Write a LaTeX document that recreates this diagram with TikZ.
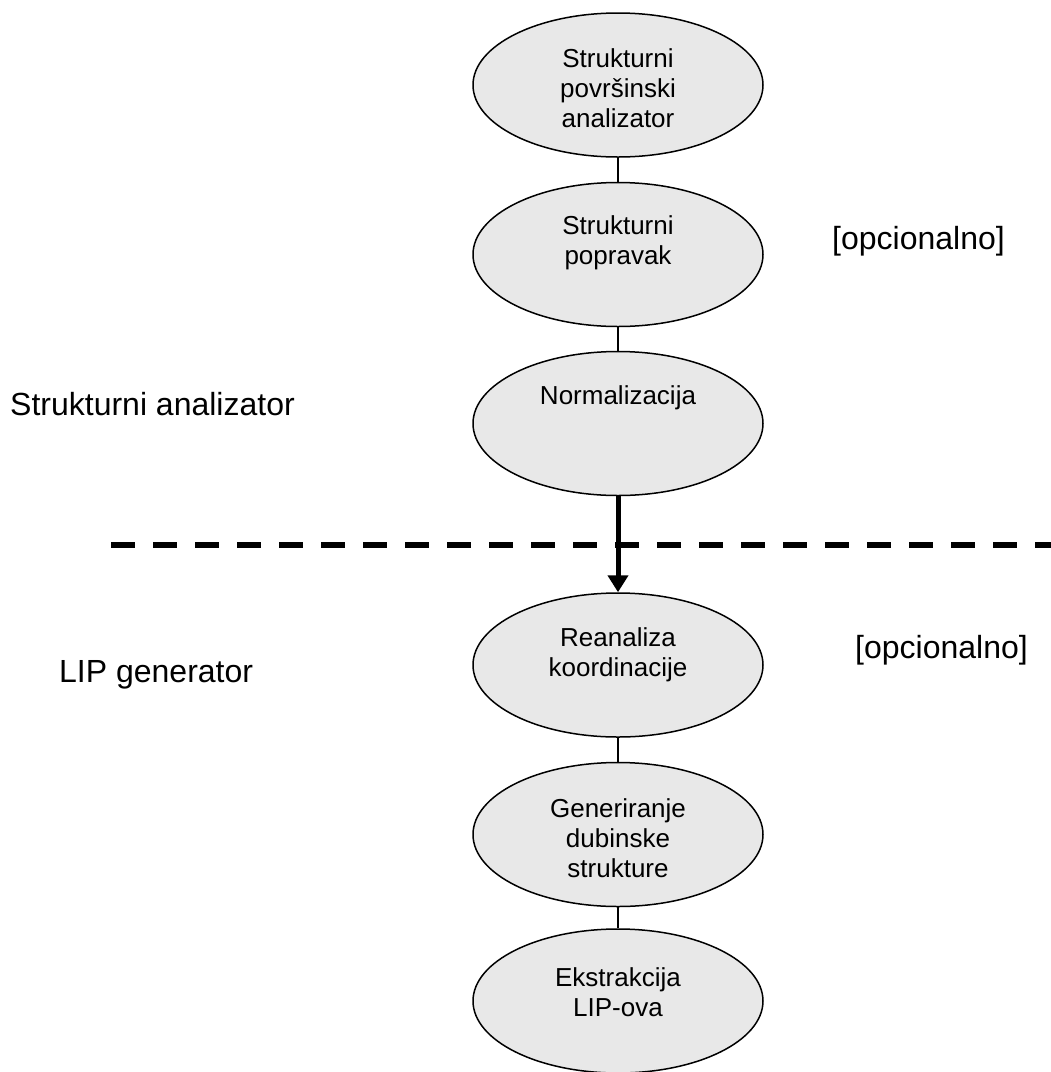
\documentclass[tikz,border=0pt]{standalone}
\usepackage{fontspec}
\setmainfont{Liberation Sans}
\usetikzlibrary{arrows.meta,shapes.geometric}
\definecolor{ellfill}{RGB}{232,232,232}
\tikzset{
  stage/.style={ellipse, draw=black, line width=1.5pt, fill=ellfill, minimum width=290pt, minimum height=144pt, inner sep=0pt},
  stagetext/.style={align=center, inner sep=0pt, font=\fontsize{26}{30}\selectfont},
  sidelabel/.style={inner sep=0pt, font=\fontsize{32}{38}\selectfont},
  link/.style={line width=1.5pt},
  bigarrow/.style={line width=5pt, -{Triangle[length=17pt,width=20pt]}},
  divider/.style={line width=5.5pt, dash pattern=on 24pt off 18pt}
}
\begin{document}
\begin{tikzpicture}[x=1pt,y=-1pt]
\useasboundingbox (0,0) rectangle (1051,1072);
\fill[white] (0,0) rectangle (1051,1072);

\node[stage] (e1) at (618,85) {};
\node[stage] (e2) at (618,254.5) {};
\node[stage] (e3) at (618,423.5) {};
\node[stage] (e4) at (618,665) {};
\node[stage] (e5) at (618,834.5) {};
\node[stage] (e6) at (618,1001) {};

\node[stagetext] (t1) at (618,88) {Strukturni\\površinski\\analizator};
\node[stagetext] (t2) at (618,243) {Strukturni\\popravak};
\node[stagetext] (t3) at (618,398) {Normalizacija};
\node[stagetext] (t4) at (618,655) {Reanaliza\\koordinacije};
\node[stagetext] (t5) at (618,838) {Generiranje\\dubinske\\strukture};
\node[stagetext] (t6) at (618,992) {Ekstrakcija\\LIP-ova};

\draw[link] (e1.south) -- (e2.north);
\draw[link] (e2.south) -- (e3.north);
\draw[link] (e4.south) -- (e5.north);
\draw[link] (e5.south) -- (e6.north);

\coordinate (dl) at (111,545);
\coordinate (dr) at (1051,545);
\draw[divider] (dl) -- (dr);
\draw[bigarrow] (e3.south) -- (e4.north);

\node[sidelabel, anchor=base west] (sa) at (10,415) {Strukturni analizator};
\node[sidelabel, anchor=base west] (lg) at (59,682) {LIP generator};
\node[sidelabel, anchor=base west] (o1) at (832,249) {[opcionalno]};
\node[sidelabel, anchor=base west] (o2) at (855,658) {[opcionalno]};
\end{tikzpicture}
\end{document}
